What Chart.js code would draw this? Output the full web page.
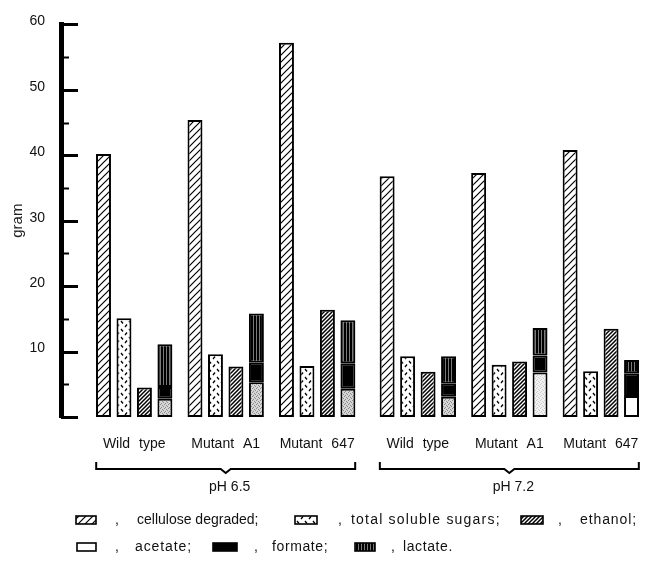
<!DOCTYPE html>
<html>
<head>
<meta charset="utf-8">
<script src="https://cdn.jsdelivr.net/npm/chart.js@4.4.1/dist/chart.umd.min.js"></script>
<style>
  html, body { margin: 0; padding: 0; background: #fff; }
  canvas { display: block; }
</style>
</head>
<body>
<canvas id="chart" width="646" height="561"></canvas>
<script>
const strains = ['Wild type', 'Mutant A1', 'Mutant 647'];
const phLabels = ['pH 6.5', 'pH 7.2'];
const yTickLabels = [10, 20, 30, 40, 50, 60];
const legendLabels = ['cellulose degraded;', 'total soluble sugars;', 'ethanol;', 'acetate;', 'formate;', 'lactate.'];

// grams, one value per strain, pH 6.5 first then pH 7.2
const celluloseDegraded = [40.2, 45.4, 57.2, 36.8, 37.3, 40.8];
const solubleSugars = [15.1, 9.6, 7.8, 9.3, 8.0, 7.0];
const ethanol = [4.5, 7.7, 16.4, 6.9, 8.5, 13.5];
const acetate = [2.8, 5.3, 4.3, 3.1, 6.8, 3.2];
const formate = [1.8, 3.0, 3.9, 2.0, 2.6, 3.5];
const lactate = [6.5, 7.5, 6.6, 4.2, 4.2, 2.0];

const FONT = "'Liberation Sans', Arial, Helvetica, sans-serif";
const INK = '#111';
const phGap = 0.1;

const groups = phLabels.flatMap((ph, p) =>
  strains.map((label, i) => ({ ph: p, label, pos: p * strains.length + i + p * phGap }))
);

const ctx = document.getElementById('chart').getContext('2d');

function tile(w, h, paint) {
  const c = document.createElement('canvas');
  c.width = w;
  c.height = h;
  paint(c.getContext('2d'), w, h);
  return ctx.createPattern(c, 'repeat');
}

function diagonal(size, lw) {
  return tile(size, size, (g, s) => {
    g.fillStyle = '#fff';
    g.fillRect(0, 0, s, s);
    g.strokeStyle = '#000';
    g.lineWidth = lw;
    g.beginPath();
    g.moveTo(-1, s + 1); g.lineTo(s + 1, -1);
    g.moveTo(-1, 1); g.lineTo(1, -1);
    g.moveTo(s - 1, s + 1); g.lineTo(s + 1, s - 1);
    g.stroke();
  });
}

function stipple(bg, dot) {
  return tile(4, 4, (g) => {
    g.fillStyle = bg;
    g.fillRect(0, 0, 4, 4);
    g.fillStyle = dot;
    [[0, 0], [2, 1], [1, 3], [3, 2]].forEach(([a, b]) => g.fillRect(a, b, 1, 1));
  });
}

const patterns = {
  cellulose: diagonal(7, 1.2),
  ethanol: diagonal(4, 1.5),
  sugars: tile(8, 8, (g) => {
    g.fillStyle = '#fff';
    g.fillRect(0, 0, 8, 8);
    g.strokeStyle = '#000';
    g.lineWidth = 1.3;
    g.beginPath();
    g.moveTo(1, 1); g.lineTo(3, 3.5);
    g.moveTo(7, 4.5); g.lineTo(5, 7);
    g.stroke();
  }),
  acetate: stipple('#d6d6d6', '#8c8c8c'),
  acetateLight: stipple('#f2f2f2', '#cccccc'),
  formate: '#000',
  lactate: tile(3, 1, (g) => {
    g.fillStyle = '#000';
    g.fillRect(0, 0, 3, 1);
    g.fillStyle = '#7a7a7a';
    g.fillRect(1, 0, 1, 1);
  })
};

function bars(label, values, stack, fill) {
  return {
    label,
    stack,
    clip: false,
    data: values.map((v, i) => ({ x: groups[i].pos, y: v })),
    backgroundColor: fill
  };
}

const decor = {
  id: 'decor',
  afterDraw(chart) {
    const { ctx: c, chartArea, scales: { x, y } } = chart;
    c.save();
    c.strokeStyle = '#000';
    c.fillStyle = INK;

    // inward ticks on the y axis
    for (let v = 0; v <= 60; v += 5) {
      const py = Math.round(y.getPixelForValue(v)) + 0.5;
      const major = v % 10 === 0;
      c.lineWidth = major ? 3 : 2;
      c.beginPath();
      c.moveTo(chartArea.left, py);
      c.lineTo(chartArea.left + (major ? 17 : 8), py);
      c.stroke();
    }

    // strain names
    c.font = '14px ' + FONT;
    c.textAlign = 'center';
    c.textBaseline = 'middle';
    c.wordSpacing = '5px';
    groups.forEach(g => c.fillText(g.label, x.getPixelForValue(g.pos), 444));
    c.wordSpacing = '0px';

    // pH brackets
    phLabels.forEach((ph, p) => {
      const members = groups.filter(g => g.ph === p);
      const left = x.getPixelForValue(members[0].pos) - 38;
      const right = x.getPixelForValue(members[members.length - 1].pos) + 38;
      const mid = (left + right) / 2;
      c.lineWidth = 2;
      c.beginPath();
      c.moveTo(left, 462);
      c.lineTo(left, 469);
      c.lineTo(mid - 5, 469);
      c.lineTo(mid, 473);
      c.lineTo(mid + 5, 469);
      c.lineTo(right, 469);
      c.lineTo(right, 462);
      c.stroke();
      c.fillText(ph, mid + 4, 487);
    });

    // legend
    const fills = [patterns.cellulose, patterns.sugars, patterns.ethanol, '#fff', patterns.formate, patterns.lactate];
    const slots = [
      { sx: 76, sw: 20, cx: 115, tx: 137, y: 520, ls: 0 },
      { sx: 295, sw: 22, cx: 338, tx: 351, y: 520, ls: 1.2 },
      { sx: 521, sw: 22, cx: 558, tx: 580, y: 520, ls: 0.9 },
      { sx: 77, sw: 19, cx: 115, tx: 135, y: 547, ls: 0.9 },
      { sx: 213, sw: 24, cx: 254, tx: 272, y: 547, ls: 0.6 },
      { sx: 355, sw: 20, cx: 391, tx: 403, y: 547, ls: 0.6 }
    ];
    c.textAlign = 'left';
    legendLabels.forEach((text, i) => {
      const s = slots[i];
      c.fillStyle = fills[i];
      c.fillRect(s.sx, s.y - 4, s.sw, 8);
      c.lineWidth = 1.6;
      c.strokeRect(s.sx, s.y - 4, s.sw, 8);
      c.fillStyle = INK;
      c.letterSpacing = '0px';
      c.fillText(',', s.cx, s.y);
      c.letterSpacing = s.ls + 'px';
      c.fillText(text, s.tx, s.y);
    });
    c.restore();
  }
};

Chart.defaults.font.family = FONT;
Chart.defaults.color = INK;

new Chart(ctx, {
  type: 'bar',
  data: {
    datasets: [
      bars('cellulose degraded', celluloseDegraded, 'cellulose', patterns.cellulose),
      bars('total soluble sugars', solubleSugars, 'sugars', patterns.sugars),
      bars('ethanol', ethanol, 'ethanol', patterns.ethanol),
      bars('acetate', acetate, 'products',
        groups.map(g => g.ph === 0 || g.label === 'Wild type' ? patterns.acetate
          : (g.label === 'Mutant A1' ? patterns.acetateLight : '#fff'))),
      bars('formate', formate, 'products', patterns.formate),
      bars('lactate', lactate, 'products', patterns.lactate)
    ]
  },
  options: {
    responsive: false,
    animation: false,
    layout: { padding: { left: 3, top: 22, right: 4, bottom: 144 } },
    plugins: {
      legend: { display: false },
      tooltip: { enabled: false }
    },
    datasets: {
      bar: {
        categoryPercentage: 0.895,
        barPercentage: 0.73,
        borderWidth: 2,
        borderColor: '#000',
        borderSkipped: false
      }
    },
    scales: {
      x: {
        type: 'linear',
        min: -0.8,
        max: 5.55,
        offset: false,
        display: false,
        afterBuildTicks: s => { s.ticks = groups.map(g => ({ value: g.pos })); }
      },
      y: {
        min: 0,
        max: 60,
        stacked: true,
        afterFit: s => { s.width = 58; },
        grid: { display: false, drawTicks: false },
        border: { display: true, width: 5, color: '#000' },
        ticks: {
          stepSize: 10,
          padding: 16,
          labelOffset: -3,
          font: { size: 14 },
          color: INK,
          callback: v => yTickLabels.includes(v) ? String(v) : ''
        },
        title: {
          display: true,
          text: 'gram',
          font: { size: 15 },
          color: '#222',
          padding: { top: 6, bottom: 0 }
        }
      }
    }
  },
  plugins: [decor]
});
</script>
</body>
</html>
